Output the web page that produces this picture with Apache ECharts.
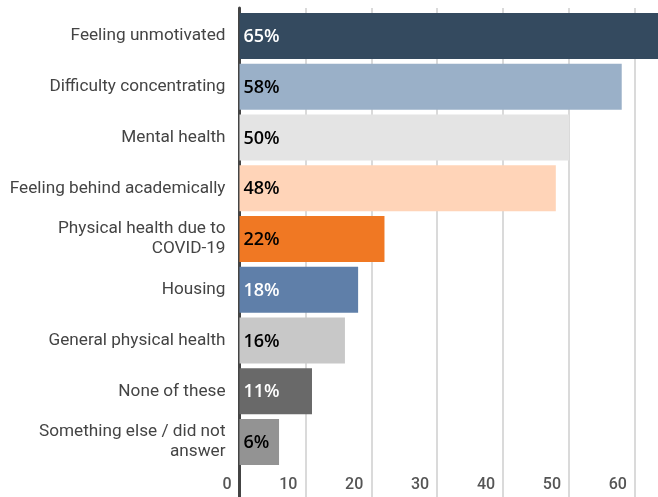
<!DOCTYPE html>
<html>
<head>
<meta charset="utf-8">
<script src="https://cdn.jsdelivr.net/npm/echarts@6/dist/echarts.min.js"></script>
<style>
  html, body { margin: 0; padding: 0; background: #ffffff; }
  #chart { width: 658px; height: 497px; }
</style>
</head>
<body>
<div id="chart"></div>
<script>
// Survey answers, listed top to bottom
const categories = [
  'Feeling unmotivated',
  'Difficulty concentrating',
  'Mental health',
  'Feeling behind academically',
  'Physical health due to\nCOVID-19',
  'Housing',
  'General physical health',
  'None of these',
  'Something else / did not\nanswer'
];
const values = [65, 58, 50, 48, 22, 18, 16, 11, 6];
const barColors = ['#344a5f', '#9ab0c8', '#e4e4e4', '#ffd4b8', '#f07823', '#5f7fa9', '#c8c8c8', '#696969', '#939393'];
const labelColors = ['#ffffff', '#000000', '#000000', '#000000', '#000000', '#ffffff', '#000000', '#ffffff', '#000000'];
const xTicks = [0, 10, 20, 30, 40, 50, 60];

const PX_PER_UNIT = 6.59;
const X_MAX = 70;
const LEFT = 239.5;

const chart = echarts.init(document.getElementById('chart'), null, { renderer: 'canvas' });

chart.setOption({
  animation: false,
  backgroundColor: '#ffffff',
  grid: [
    // bars
    { left: LEFT, top: 10.6, height: 456.8, width: X_MAX * PX_PER_UNIT, containLabel: false, outerBoundsMode: 'none' },
    // gridlines, tick labels and baseline
    { left: LEFT, top: 8, height: 489, width: X_MAX * PX_PER_UNIT, containLabel: false, outerBoundsMode: 'none' }
  ],
  xAxis: [
    {
      gridIndex: 0, type: 'value', min: 0, max: X_MAX, interval: 10,
      axisLine: { show: false }, axisTick: { show: false },
      axisLabel: { show: false }, splitLine: { show: false }
    },
    {
      gridIndex: 1, type: 'value', min: 0, max: X_MAX, interval: 10,
      axisLine: { show: false }, axisTick: { show: false },
      splitLine: { show: true, lineStyle: { color: '#dadada', width: 2 } },
      axisLabel: {
        inside: true,
        align: 'right',
        verticalAlign: 'bottom',
        margin: 4,
        padding: [0, 8, 0, 0],
        color: '#555555',
        fontFamily: 'Roboto',
        fontWeight: 500,
        fontSize: 16,
        formatter: (v) => (xTicks.indexOf(v) >= 0 ? String(v) : '')
      }
    }
  ],
  yAxis: [
    {
      gridIndex: 0, type: 'category', data: categories, inverse: true,
      axisLine: { show: false }, axisTick: { show: false },
      axisLabel: {
        margin: 14,
        color: '#444444',
        fontFamily: 'Roboto',
        fontWeight: 400,
        fontSize: 17.2,
        lineHeight: 20,
        padding: [4, 0, 0, 0],
        align: 'right'
      }
    },
    {
      gridIndex: 1, type: 'value', min: 0, max: 1,
      axisLine: { show: true, lineStyle: { color: '#444444', width: 3 } },
      axisTick: { show: false }, axisLabel: { show: false },
      splitLine: { show: false }
    }
  ],
  series: [{
    type: 'bar',
    xAxisIndex: 0,
    yAxisIndex: 0,
    barCategoryGap: '9.4%',
    z: 3,
    data: values.map((v, i) => ({
      value: v,
      itemStyle: { color: barColors[i] },
      label: { color: labelColors[i] }
    })),
    label: {
      show: true,
      position: 'insideLeft',
      offset: [-1, 1],
      formatter: '{c}%',
      fontFamily: 'Open Sans',
      fontWeight: 600,
      fontSize: 18
    }
  }]
});
</script>
</body>
</html>
